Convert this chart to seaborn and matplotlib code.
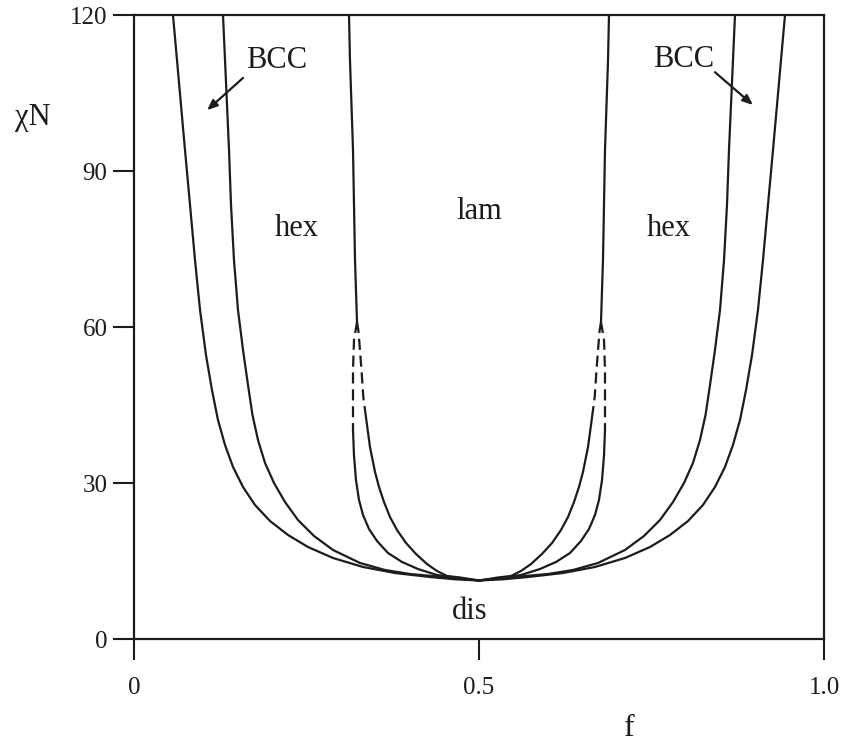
import matplotlib
matplotlib.use("Agg")
import matplotlib.pyplot as plt
import seaborn as sns
import pandas as pd

# ---------------- data ----------------
# dis / BCC boundary
dis_bcc_left_f = [0.0565, 0.0623, 0.0681, 0.0739, 0.0812, 0.0884, 0.0957, 0.1043, 0.1130, 0.1217, 0.1319, 0.1435,
                  0.1580, 0.1754, 0.1971, 0.2232, 0.2522, 0.2884, 0.3319, 0.3783, 0.4290, 0.4652, 0.5000]
dis_bcc_left_x = [120.0, 111.35, 102.7, 94.04, 83.46, 72.88, 63.27, 54.62, 47.88, 42.12, 37.31, 33.08,
                  29.23, 25.77, 22.69, 20.0, 17.69, 15.58, 13.85, 12.69, 11.92, 11.48, 11.25]
dis_bcc_right_f = [0.5000, 0.5348, 0.5710, 0.6217, 0.6681, 0.7116, 0.7478, 0.7768, 0.8029, 0.8246, 0.8420, 0.8565,
                   0.8681, 0.8783, 0.8870, 0.8957, 0.9043, 0.9116, 0.9188, 0.9261, 0.9319, 0.9377, 0.9435]
dis_bcc_right_x = [11.25, 11.48, 11.92, 12.69, 13.85, 15.58, 17.69, 20.0, 22.69, 25.77, 29.23, 33.08,
                   37.31, 42.12, 47.88, 54.62, 63.27, 72.88, 83.46, 94.04, 102.7, 111.35, 120.0]

# BCC / hex boundary
bcc_hex_left_f = [0.1290, 0.1319, 0.1348, 0.1377, 0.1406, 0.1449, 0.1507, 0.1580, 0.1652, 0.1717, 0.1797, 0.1899,
                  0.2029, 0.2188, 0.2377, 0.2609, 0.2884, 0.3275, 0.3638, 0.4000, 0.4406, 0.4768, 0.5000]
bcc_hex_left_x = [120.0, 111.35, 102.7, 94.04, 83.46, 72.88, 63.27, 55.58, 48.85, 43.08, 38.27, 33.85,
                  30.0, 26.35, 22.88, 19.81, 17.12, 14.62, 13.27, 12.5, 12.02, 11.54, 11.25]
bcc_hex_right_f = [0.5000, 0.5232, 0.5594, 0.6000, 0.6362, 0.6725, 0.7116, 0.7391, 0.7623, 0.7812, 0.7971, 0.8101,
                   0.8203, 0.8283, 0.8348, 0.8420, 0.8493, 0.8551, 0.8594, 0.8623, 0.8652, 0.8681, 0.8710]
bcc_hex_right_x = [11.25, 11.54, 12.02, 12.5, 13.27, 14.62, 17.12, 19.81, 22.88, 26.35, 30.0, 33.85,
                   38.27, 43.08, 48.85, 55.58, 63.27, 72.88, 83.46, 94.04, 102.7, 111.35, 120.0]

# hex / lam boundary (upper, solid)
hex_lam_left_f = [0.3116, 0.3130, 0.3174, 0.3203, 0.3232]
hex_lam_left_x = [120.0, 111.35, 94.04, 72.88, 60.96]
hex_lam_right_f = [0.6884, 0.6870, 0.6826, 0.6797, 0.6768]
hex_lam_right_x = [120.0, 111.35, 94.04, 72.88, 60.96]

# hex / gyroid boundary: dashed (extrapolated) part, then solid part
hex_gyr_left_dash_f = [0.3232, 0.3188, 0.3174, 0.3174, 0.3174]
hex_gyr_left_dash_x = [60.96, 57.5, 51.73, 45.96, 40.19]
hex_gyr_left_f = [0.3174, 0.3188, 0.3217, 0.3261, 0.3319, 0.3406, 0.3522, 0.3681, 0.3884, 0.4116, 0.4391, 0.4696, 0.5000]
hex_gyr_left_x = [40.19, 35.38, 30.58, 26.73, 23.85, 21.15, 18.85, 16.54, 14.81, 13.46, 12.31, 11.69, 11.25]
hex_gyr_right_dash_f = [0.6768, 0.6812, 0.6826, 0.6826, 0.6826]
hex_gyr_right_dash_x = [60.96, 57.5, 51.73, 45.96, 40.19]
hex_gyr_right_f = [0.6826, 0.6812, 0.6783, 0.6739, 0.6681, 0.6594, 0.6478, 0.6319, 0.6116, 0.5884, 0.5609, 0.5304, 0.5000]
hex_gyr_right_x = [40.19, 35.38, 30.58, 26.73, 23.85, 21.15, 18.85, 16.54, 14.81, 13.46, 12.31, 11.69, 11.25]

# gyroid / lam boundary: dashed (extrapolated) part, then solid part
gyr_lam_left_dash_f = [0.3232, 0.3251, 0.3275, 0.3300, 0.3323, 0.3348]
gyr_lam_left_dash_x = [60.96, 59.42, 55.58, 51.15, 46.54, 44.04]
gyr_lam_left_f = [0.3348, 0.3377, 0.3420, 0.3493, 0.3551, 0.3623, 0.3710, 0.3812, 0.3942, 0.4087, 0.4246, 0.4391,
                  0.4536, 0.4725, 0.5000]
gyr_lam_left_x = [44.04, 41.15, 36.92, 32.12, 29.23, 26.35, 23.46, 20.96, 18.46, 16.35, 14.42, 13.08,
                  12.12, 11.83, 11.25]
gyr_lam_right_dash_f = [0.6768, 0.6749, 0.6725, 0.6700, 0.6677, 0.6652]
gyr_lam_right_dash_x = [60.96, 59.42, 55.58, 51.15, 46.54, 44.04]
gyr_lam_right_f = [0.6652, 0.6623, 0.6580, 0.6507, 0.6449, 0.6377, 0.6290, 0.6188, 0.6058, 0.5913, 0.5754, 0.5609,
                   0.5464, 0.5275, 0.5000]
gyr_lam_right_x = [44.04, 41.15, 36.92, 32.12, 29.23, 26.35, 23.46, 20.96, 18.46, 16.35, 14.42, 13.08,
                   12.12, 11.83, 11.25]

x_ticks = [0, 0.5, 1.0]
x_tick_labels = ["0", "0.5", "1.0"]
y_ticks = [0, 30, 60, 90, 120]
y_tick_labels = ["0", "30", "60", "90", "120"]

phase_labels = ["BCC", "BCC", "hex", "lam", "hex", "dis"]
phase_f = [0.206, 0.796, 0.236, 0.500, 0.775, 0.486]
phase_x = [111.2, 111.5, 79.0, 82.3, 79.0, 5.2]

# ---------------- style ----------------
sns.set_style("ticks")
plt.rcParams["font.family"] = ["Liberation Serif", "DejaVu Serif"]

INK = "#1c1c1c"
LW = 1.6

fig = plt.figure(figsize=(8.47, 7.45), dpi=100)
ax = fig.add_axes([134 / 847, 1 - 639 / 745, 690 / 847, 624 / 745])

solid = [
    (dis_bcc_left_f, dis_bcc_left_x), (dis_bcc_right_f, dis_bcc_right_x),
    (bcc_hex_left_f, bcc_hex_left_x), (bcc_hex_right_f, bcc_hex_right_x),
    (hex_lam_left_f, hex_lam_left_x), (hex_lam_right_f, hex_lam_right_x),
    (hex_gyr_left_f, hex_gyr_left_x), (hex_gyr_right_f, hex_gyr_right_x),
    (gyr_lam_left_f, gyr_lam_left_x), (gyr_lam_right_f, gyr_lam_right_x),
]
dashed = [
    (hex_gyr_left_dash_f, hex_gyr_left_dash_x), (hex_gyr_right_dash_f, hex_gyr_right_dash_x),
    (gyr_lam_left_dash_f, gyr_lam_left_dash_x), (gyr_lam_right_dash_f, gyr_lam_right_dash_x),
]

for fv, xv in solid:
    df = pd.DataFrame({"f": fv, "chiN": xv})
    sns.lineplot(data=df, x="f", y="chiN", sort=False, estimator=None,
                 color=INK, lw=LW, ax=ax, solid_joinstyle="round")
for fv, xv in dashed:
    df = pd.DataFrame({"f": fv, "chiN": xv})
    sns.lineplot(data=df, x="f", y="chiN", sort=False, estimator=None,
                 color=INK, lw=LW, ax=ax, linestyle=(0, (5, 2.6)))

ax.set_xlim(0, 1.0)
ax.set_ylim(0, 120)
ax.set_xticks(x_ticks)
ax.set_xticklabels(x_tick_labels)
ax.set_yticks(y_ticks)
ax.set_yticklabels(y_tick_labels)

for s in ax.spines.values():
    s.set_visible(True)
    s.set_color(INK)
    s.set_linewidth(1.6)

ax.tick_params(axis="both", direction="out", length=15, width=1.5,
               colors=INK, labelsize=18)
ax.tick_params(axis="x", pad=12)
ax.tick_params(axis="y", pad=4)

ax.set_xlabel("f", fontsize=23, color=INK)
ax.set_ylabel("χN", fontsize=22, color=INK, rotation=0, ha="center", va="center")
ax.xaxis.set_label_coords((629 - 134) / 690, (639 - 729) / 624)
ax.xaxis.label.set_va("center")
ax.yaxis.set_label_coords((33 - 134) / 690, (639 - 118) / 624)

for lab, fx, cx in zip(phase_labels, phase_f, phase_x):
    ax.text(fx, cx, lab, fontsize=22, ha="center", va="center", color=INK)

arrow_kw = dict(arrowstyle="-|>,head_length=0.6,head_width=0.25",
                color=INK, lw=1.6, shrinkA=0, shrinkB=0)
ax.annotate("", xy=(0.106, 101.7), xytext=(0.158, 107.9), arrowprops=arrow_kw)
ax.annotate("", xy=(0.897, 102.7), xytext=(0.842, 109.0), arrowprops=arrow_kw)

ax.set_facecolor("white")
fig.patch.set_facecolor("white")
fig.savefig("out.png", dpi=100, facecolor="white")
